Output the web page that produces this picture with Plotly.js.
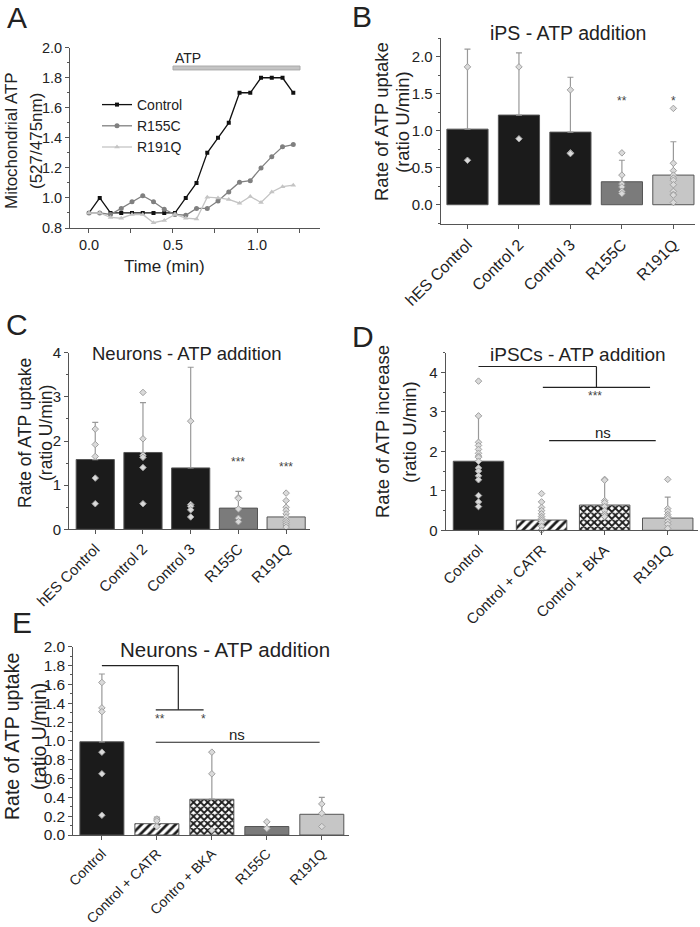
<!DOCTYPE html>
<html>
<head>
<meta charset="utf-8">
<script src="https://cdn.plot.ly/plotly-3.0.1.min.js"></script>
<style>html,body{margin:0;padding:0;background:#fff;}#chart{width:700px;height:927px;}</style>
</head>
<body>
<div id="chart"></div>
<script>
// ---------- DATA ----------
// Panel A: time course
const timeMin = [0, 0.064, 0.128, 0.192, 0.256, 0.32, 0.384, 0.448, 0.512, 0.576, 0.64, 0.704, 0.768, 0.832, 0.896, 0.96, 1.024, 1.088, 1.152, 1.216];
const aControl = [0.9, 1.0, 0.9, 0.9, 0.9, 0.9, 0.9, 0.9, 0.9, 1.0, 1.1, 1.3, 1.4, 1.5, 1.7, 1.7, 1.8, 1.8, 1.8, 1.7];
const aR155C = [0.9, 0.9, 0.89, 0.93, 0.975, 1.015, 0.975, 0.925, 0.89, 0.885, 0.93, 0.93, 0.98, 1.04, 1.105, 1.115, 1.2, 1.275, 1.34, 1.355];
const aR191Q = [0.9, 0.9, 0.87, 0.865, 0.89, 0.89, 0.835, 0.85, 0.89, 0.865, 0.86, 1.005, 1.0, 0.99, 0.965, 1.01, 0.97, 1.04, 1.075, 1.085];
const atpBar = [0.5, 1.256];

// Panel B: iPS
const bCats = ["hES Control", "Control 2", "Control 3", "R155C", "R191Q"];
const bMeans = [1.02, 1.21, 0.98, 0.31, 0.40];
const bTops = [2.10, 2.05, 1.72, 0.60, 0.85];
const bPoints = [[1.86, 0.60], [1.86, 0.89], [1.55, 0.70, 0.69], [0.70, 0.40, 0.28, 0.24, 0.18, 0.15], [1.30, 0.56, 0.46, 0.40, 0.36, 0.33, 0.27, 0.18, 0.14, 0.13, 0.03]];
const bStars = ["", "", "", "**", "*"];

// Panel C: Neurons
const cCats = ["hES Control", "Control 2", "Control 3", "R155C", "R191Q"];
const cMeans = [1.58, 1.74, 1.39, 0.48, 0.28];
const cTops = [2.42, 2.87, 3.67, 0.86, 0.64];
const cPoints = [[2.27, 1.92, 1.65, 1.16, 0.58], [3.10, 2.05, 1.68, 1.63, 1.40, 0.58], [4.03, 2.45, 0.56, 0.52, 0.44, 0.28], [0.72, 0.70, 0.46, 0.25, 0.17], [0.82, 0.65, 0.50, 0.43, 0.35, 0.28, 0.20, 0.15, 0.10, 0.05]];
const cStars = ["", "", "", "***", "***"];

// Panel D: iPSCs
const dCats = ["Control", "Control + CATR", "Control + BKA", "R191Q"];
const dMeans = [1.75, 0.26, 0.64, 0.31];
const dTops = [2.90, 0.73, 1.28, 0.84];
const dPoints = [[3.78, 2.90, 2.23, 2.15, 2.05, 1.95, 1.88, 1.85, 1.75, 1.58, 1.50, 1.38, 1.28, 0.88, 0.72, 0.60], [0.93, 0.72, 0.58, 0.50, 0.42, 0.35, 0.30, 0.25, 0.20, 0.10, 0.0, -0.10], [1.29, 1.27, 0.75, 0.70, 0.60, 0.50, 0.40, 0.35], [1.29, 0.55, 0.48, 0.40, 0.35, 0.30, 0.22, 0.15, 0.05, -0.25]];

// Panel E: Neurons
const eCats = ["Control", "Control + CATR", "Contro + BKA", "R155C", "R191Q"];
const eMeans = [0.99, 0.12, 0.38, 0.09, 0.22];
const eTops = [1.71, 0.19, 0.88, 0.14, 0.40];
const ePoints = [[1.62, 1.35, 1.31, 0.88, 0.65, 0.21], [0.17, 0.15, 0.09], [0.88, 0.65, 0.05], [0.14, 0.07], [0.33, 0.23, 0.09]];

// ---------- STYLE ----------
const W = 700, H = 927;
const px = x => x / W;
const py = y => 1 - y / H;
const FONT = "Liberation Sans, Arial, sans-serif";
const TXT = "#222";
const AX = "#555";
const BLACK = "#1b1b1b", DGRAY = "#7b7b7b", LGRAY = "#c6c6c6";

function baseAxis(extra) {
  return Object.assign({
    showline: true, linecolor: AX, linewidth: 1, ticks: "outside", ticklen: 4,
    tickcolor: AX, showgrid: false, zeroline: false, fixedrange: true,
    tickfont: {family: FONT, size: 15, color: TXT}
  }, extra);
}

const traces = [];

// Panel A traces
traces.push({x: timeMin, y: aControl, xaxis: "x", yaxis: "y", type: "scatter", mode: "lines+markers",
  name: "Control", line: {color: "#111", width: 1.3}, marker: {symbol: "square", size: 4, color: "#111"}});
traces.push({x: timeMin, y: aR155C, xaxis: "x", yaxis: "y", type: "scatter", mode: "lines+markers",
  name: "R155C", line: {color: "#808080", width: 1.3}, marker: {symbol: "circle", size: 5, color: "#808080"}});
traces.push({x: timeMin, y: aR191Q, xaxis: "x", yaxis: "y", type: "scatter", mode: "lines+markers",
  name: "R191Q", line: {color: "#c4c4c4", width: 1.3}, marker: {symbol: "triangle-up", size: 5, color: "#c4c4c4"}});

function addBars(xa, ya, cats, means, tops, colors, patterns, points) {
  cats.forEach((c, i) => {
    const m = {color: colors[i], line: {color: "#555", width: 1}};
    if (patterns[i]) {
      m.pattern = {shape: patterns[i], fgcolor: "#1b1b1b", bgcolor: "#ffffff", fgopacity: 1,
        size: patterns[i] === "/" ? 6 : 5, solidity: patterns[i] === "/" ? 0.45 : 0.6, fillmode: "replace"};
    }
    traces.push({
      type: "bar", x: [c], y: [means[i]], xaxis: xa, yaxis: ya, width: 0.8, showlegend: false,
      marker: m,
      error_y: {type: "data", symmetric: false, array: [tops[i] - means[i]], arrayminus: [0],
        color: "#999", thickness: 1.2, width: 3}
    });
  });
  const xs = [], ys = [];
  points.forEach((arr, i) => arr.forEach(v => { xs.push(cats[i]); ys.push(v); }));
  traces.push({
    type: "scatter", mode: "markers", x: xs, y: ys, xaxis: xa, yaxis: ya, showlegend: false,
    cliponaxis: false,
    marker: {symbol: "diamond", size: 5, color: "#dadada", line: {color: "#a0a0a0", width: 1}}
  });
}

addBars("x2", "y2", bCats, bMeans, bTops, [BLACK, BLACK, BLACK, DGRAY, LGRAY], ["", "", "", "", ""], bPoints);
addBars("x3", "y3", cCats, cMeans, cTops, [BLACK, BLACK, BLACK, DGRAY, LGRAY], ["", "", "", "", ""], cPoints);
addBars("x4", "y4", dCats, dMeans, dTops, [BLACK, "#ffffff", "#ffffff", LGRAY], ["", "/", "x", ""], dPoints);
addBars("x5", "y5", eCats, eMeans, eTops, [BLACK, "#ffffff", "#ffffff", DGRAY, LGRAY], ["", "/", "x", "", ""], ePoints);

const ann = [];
function txt(x, y, text, size, opts) {
  ann.push(Object.assign({x: x, y: y, xref: "paper", yref: "paper", text: text, showarrow: false,
    xanchor: "center", yanchor: "middle", font: {family: FONT, size: size, color: TXT}}, opts || {}));
}
// panel letters
txt(px(17), py(18), "A", 30);
txt(px(362), py(17), "B", 30);
txt(px(17), py(324), "C", 30);
txt(px(363), py(336), "D", 30);
txt(px(22), py(622), "E", 30);
// y titles
txt(px(12), py(141), "Mitochondrial ATP", 17, {textangle: -90});
txt(px(37), py(141), "(527/475nm)", 17, {textangle: -90});
txt(px(381), py(122), "Rate of ATP uptake", 18.5, {textangle: -90});
txt(px(402), py(122), "(ratio U/min)", 18.5, {textangle: -90});
txt(px(25), py(433), "Rate of ATP uptake", 17.5, {textangle: -90});
txt(px(46), py(433), "(ratio U/min)", 17.5, {textangle: -90});
txt(px(382), py(432), "Rate of ATP increase", 18.5, {textangle: -90});
txt(px(409), py(432), "(ratio U/min)", 18.5, {textangle: -90});
txt(px(12), py(737), "Rate of ATP uptake", 19.5, {textangle: -90});
txt(px(39), py(737), "(ratio U/min)", 19.5, {textangle: -90});
// x title A
txt(px(164), py(266), "Time (min)", 17);
// panel titles
txt(px(568), py(33), "iPS - ATP addition", 19.5);
txt(px(187), py(353), "Neurons - ATP addition", 18.5);
txt(px(578), py(355), "iPSCs - ATP addition", 19);
txt(px(225), py(649), "Neurons - ATP addition", 20.5);
// ATP label
ann.push({x: 0.5, y: 1.93, xref: "x", yref: "y", text: "ATP", showarrow: false, xanchor: "left", yanchor: "middle",
  font: {family: FONT, size: 14, color: TXT}});
// stars
function star(xa, ya, x, y, t) {
  ann.push({x: x, y: y, xref: xa, yref: ya, text: t, showarrow: false, xanchor: "center", yanchor: "middle",
    font: {family: FONT, size: 12, color: "#444"}});
}
bStars.forEach((s, i) => { if (s) star("x2", "y2", i, 1.40, s); });
cStars.forEach((s, i) => { if (s) star("x3", "y3", i, i === 3 ? 1.53 : 1.42, s); });
star("x4", "y4", 1.85, 3.40, "***");
star("x5", "y5", 1.05, 1.23, "**");
star("x5", "y5", 1.85, 1.23, "*");
ann.push({x: 1.97, y: 2.47, xref: "x4", yref: "y4", text: "ns", showarrow: false, font: {family: FONT, size: 15, color: TXT}});
ann.push({x: 2.45, y: 1.07, xref: "x5", yref: "y5", text: "ns", showarrow: false, font: {family: FONT, size: 15, color: TXT}});

const shapes = [];
function seg(xa, ya, x0, y0, x1, y1) {
  shapes.push({type: "line", xref: xa, yref: ya, x0: x0, y0: y0, x1: x1, y1: y1, line: {color: "#222", width: 1.2}});
}
// ATP application bar
shapes.push({type: "rect", xref: "x", yref: "y", x0: atpBar[0], x1: atpBar[1], y0: 1.852, y1: 1.878,
  fillcolor: "#c4c4c4", line: {color: "#aaa", width: 1}});
// D brackets
seg("x4", "y4", 0, 4.15, 1.87, 4.15);
seg("x4", "y4", 1.87, 4.15, 1.87, 3.62);
seg("x4", "y4", 1.02, 3.62, 2.72, 3.62);
seg("x4", "y4", 1.12, 2.27, 2.81, 2.27);
// E brackets
seg("x5", "y5", 0, 1.8, 1.39, 1.8);
seg("x5", "y5", 1.39, 1.8, 1.39, 1.33);
seg("x5", "y5", 0.98, 1.33, 1.85, 1.33);
seg("x5", "y5", 0.98, 0.985, 3.96, 0.985);

const catFont = s => ({family: FONT, size: s, color: TXT});
const layout = {
  width: W, height: H, margin: {l: 0, r: 0, t: 0, b: 0}, paper_bgcolor: "#fff", plot_bgcolor: "rgba(0,0,0,0)",
  showlegend: true, barmode: "overlay",
  legend: {x: px(97), y: py(89), xanchor: "left", yanchor: "top", bgcolor: "rgba(0,0,0,0)",
    font: {family: FONT, size: 14, color: TXT}, tracegroupgap: 0, itemwidth: 30},
  font: {family: FONT, color: TXT},
  xaxis: baseAxis({domain: [px(70), px(320)], range: [-0.113, 1.375], anchor: "y",
    tickvals: [0, 0.5, 1.0], ticktext: ["0.0", "0.5", "1.0"], tickfont: catFont(14.5),
    minor: {ticks: "outside", ticklen: 4, tickvals: [0.25, 0.75, 1.25], tickcolor: AX}}),
  yaxis: baseAxis({domain: [py(228), py(47.7)], range: [0.8, 2.0], anchor: "x", dtick: 0.2, tickformat: ".1f",
    tickfont: catFont(14.5), minor: {ticks: "outside", ticklen: 2, dtick: 0.1, tickcolor: AX}}),
  xaxis2: baseAxis({domain: [px(440.7), px(695)], range: [-0.52, 4.42], anchor: "y2", type: "category", tickangle: -45,
    tickfont: catFont(16)}),
  yaxis2: baseAxis({domain: [py(224), py(38)], range: [-0.26, 2.25], anchor: "x2", dtick: 0.5, tickformat: ".1f",
    minor: {ticks: "outside", ticklen: 2, dtick: 0.25, tickcolor: AX}}),
  xaxis3: baseAxis({domain: [px(69), px(310)], range: [-0.55, 4.5], anchor: "y3", type: "category", tickangle: -45,
    tickfont: catFont(15)}),
  yaxis3: baseAxis({domain: [py(529.3), py(352.7)], range: [0, 4], anchor: "x3", dtick: 1,
    minor: {ticks: "outside", ticklen: 2, dtick: 0.5, tickcolor: AX}}),
  xaxis4: baseAxis({domain: [px(445.7), px(698)], range: [-0.52, 3.48], anchor: "y4", type: "category", tickangle: -45,
    tickfont: catFont(15)}),
  yaxis4: baseAxis({domain: [py(530.3), py(352.7)], range: [0, 4.5], anchor: "x4", dtick: 1,
    minor: {ticks: "outside", ticklen: 2, dtick: 0.5, tickcolor: AX}}),
  xaxis5: baseAxis({domain: [px(73.3), px(349.3)], range: [-0.52, 4.5], anchor: "y5", type: "category", tickangle: -45,
    tickfont: catFont(14)}),
  yaxis5: baseAxis({domain: [py(835), py(646.7)], range: [0, 2.0], anchor: "x5", dtick: 0.2, tickformat: ".1f",
    tickfont: catFont(15.5), minor: {ticks: "outside", ticklen: 2, dtick: 0.1, tickcolor: AX}}),
  annotations: ann, shapes: shapes
};

Plotly.newPlot("chart", traces, layout, {staticPlot: true, displayModeBar: false});
</script>
</body>
</html>
